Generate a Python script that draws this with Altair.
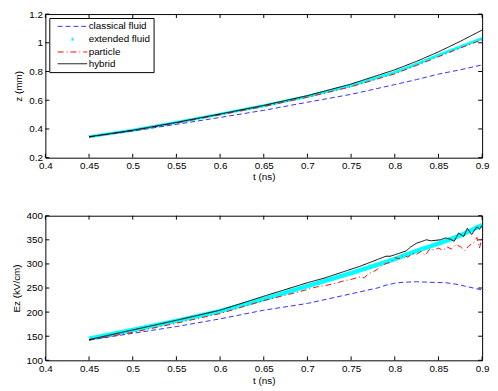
import altair as alt
import pandas as pd

# ---------------- data ----------------
SERIES = ["classical fluid", "extended fluid", "particle", "hybrid"]
COLORS = ["#3030ff", "#00ffff", "#ff0000", "#000000"]
DASHES = [[5, 3], [0, 14, 2, 200], [6, 3, 1, 3], [1, 0]]
WIDTHS = [1, 3, 1, 1]

# top panel: z (mm) vs t (ns)
t_top = [0.45, 0.5, 0.55, 0.6, 0.65, 0.7, 0.75, 0.8, 0.825, 0.85, 0.875, 0.9]
z_classical = [0.345, 0.386, 0.432, 0.480, 0.530, 0.586, 0.641, 0.709, 0.744, 0.782, 0.812, 0.846]
z_extended = [0.346, 0.391, 0.445, 0.503, 0.562, 0.627, 0.702, 0.794, 0.851, 0.914, 0.971, 1.030]
z_particle = [0.344, 0.389, 0.442, 0.499, 0.557, 0.621, 0.694, 0.784, 0.843, 0.903, 0.964, 1.021]
z_hybrid = [0.346, 0.391, 0.446, 0.504, 0.564, 0.632, 0.713, 0.812, 0.871, 0.937, 1.010, 1.089]

# bottom panel: Ez (kV/cm) vs t (ns)
t_cl = [0.45, 0.5, 0.55, 0.6, 0.65, 0.7, 0.75, 0.78, 0.79, 0.8, 0.81, 0.825, 0.84, 0.858, 0.87, 0.88, 0.89, 0.9]
E_classical = [142, 156, 170, 186, 204, 218, 238, 250, 256, 260, 262, 263, 262, 261, 258, 254, 250, 246]

t_ex = [0.45, 0.5, 0.55, 0.6, 0.65, 0.7, 0.75, 0.8, 0.825, 0.85, 0.875, 0.9]
E_extended = [145, 163, 182, 202, 227, 254, 281, 310, 327, 342, 359, 381]

t_pa = [0.45, 0.5, 0.55, 0.6, 0.65, 0.67, 0.69, 0.7, 0.71, 0.72, 0.73, 0.74, 0.75, 0.76, 0.765,
        0.77, 0.775, 0.78, 0.785, 0.79, 0.795, 0.8, 0.805, 0.81, 0.815, 0.82, 0.825, 0.83, 0.835,
        0.84, 0.845, 0.85, 0.855, 0.86, 0.865, 0.87, 0.875, 0.88, 0.885, 0.89, 0.894, 0.897, 0.9]
E_particle = [142, 158, 177, 197, 224, 233, 242, 247, 252, 255, 259, 264, 268, 273, 271,
              280, 283, 289, 296, 301, 303, 313, 311, 318, 314, 322, 320, 326, 318,
              331, 329, 333, 328, 335, 331, 340, 336, 327, 338, 343, 355, 333, 356]

t_hy = [0.45, 0.5, 0.55, 0.6, 0.65, 0.7, 0.72, 0.74, 0.76, 0.77, 0.78, 0.79, 0.795, 0.8, 0.805,
        0.813, 0.818, 0.825, 0.83, 0.836, 0.842, 0.847, 0.852, 0.858, 0.864, 0.868, 0.873,
        0.879, 0.883, 0.888, 0.894, 0.897, 0.9]
E_hybrid = [143, 163, 183, 204, 233, 261, 271, 283, 295, 302, 309, 316, 316, 319, 322,
            327, 335, 343, 346, 350, 348, 349, 350, 354, 351, 347, 364,
            357, 374, 361, 377, 372, 380]

x_ticks = [0.4, 0.45, 0.5, 0.55, 0.6, 0.65, 0.7, 0.75, 0.8, 0.85, 0.9]
y_ticks_top = [0.2, 0.4, 0.6, 0.8, 1.0, 1.2]
y_ticks_bot = [100, 150, 200, 250, 300, 350, 400]

# ---------------- build ----------------
W = 444
FONT = "Liberation Sans"


def long(pairs, yname):
    rows = []
    for s, (ts, ys) in zip(SERIES, pairs):
        for i, (t, y) in enumerate(zip(ts, ys)):
            rows.append({"t": t, yname: y, "series": s, "order": i})
    return pd.DataFrame(rows)


def panel(df, yname, ytitle, ydom, yticks, yfmt, H, band_w, title_pad, xtitle_pad):
    xs = alt.Scale(domain=[0.4, 0.9], nice=False, zero=False)
    ys = alt.Scale(domain=ydom, nice=False, zero=False)
    xax = alt.Axis(values=x_ticks, format="~g", ticks=False, grid=False, domain=False,
                   labelPadding=3, titlePadding=xtitle_pad, labelFlush=False, labelOverlap=False)
    yax = alt.Axis(values=yticks, format=yfmt, ticks=False, grid=False, domain=False,
                   labelPadding=3, titlePadding=title_pad, labelFlush=False, labelOverlap=False)
    X = alt.X("t:Q", scale=xs, axis=xax, title="t (ns)")
    Y = alt.Y(f"{yname}:Q", scale=ys, axis=yax, title=ytitle)

    band = alt.Chart(df[df["series"] == "extended fluid"]).mark_line(
        color="#00ffff", strokeWidth=band_w, clip=True
    ).encode(x=X, y=Y, order="order:Q")

    lines = alt.Chart(df).mark_line(clip=True).encode(
        x=X, y=Y, order="order:Q",
        color=alt.Color("series:N", scale=alt.Scale(domain=SERIES, range=COLORS),
                        legend=alt.Legend(title=None, orient="top-left", offset=4,
                                          symbolType="M-1,0H5", symbolSize=100,
                                          labelFontSize=10, labelFont=FONT, labelColor="black",
                                          strokeColor="black", fillColor="white",
                                          padding=3, rowPadding=1, cornerRadius=0,
                                          labelOffset=20, symbolOffset=4)),
        strokeDash=alt.StrokeDash("series:N", scale=alt.Scale(domain=SERIES, range=DASHES)),
        strokeWidth=alt.StrokeWidth("series:N",
                                    scale=alt.Scale(type="ordinal", domain=SERIES, range=WIDTHS)),
    )

    xt = pd.DataFrame({"t": x_ticks})
    yt = pd.DataFrame({yname: yticks})
    tick_b = alt.Chart(xt).mark_rule(color="black", strokeWidth=1).encode(
        x=X, y=alt.value(H), y2=alt.value(H - 4))
    tick_t = alt.Chart(xt).mark_rule(color="black", strokeWidth=1).encode(
        x=X, y=alt.value(0), y2=alt.value(4))
    tick_l = alt.Chart(yt).mark_rule(color="black", strokeWidth=1).encode(
        y=Y, x=alt.value(0), x2=alt.value(4))
    tick_r = alt.Chart(yt).mark_rule(color="black", strokeWidth=1).encode(
        y=Y, x=alt.value(W), x2=alt.value(W - 4))

    return alt.layer(band, lines, tick_b, tick_t, tick_l, tick_r).properties(width=W, height=H)


df_top = long([(t_top, z_classical), (t_top, z_extended), (t_top, z_particle), (t_top, z_hybrid)], "z")
df_bot = long([(t_cl, E_classical), (t_ex, E_extended), (t_pa, E_particle), (t_hy, E_hybrid)], "E")

top = panel(df_top, "z", "z (mm)", [0.2, 1.2], y_ticks_top, "~g", 146, 3, 5, 1)
bot = panel(df_bot, "E", "Ez (kV/cm)", [100, 400], y_ticks_bot, "d", 147, 4.5, 5, 3)

chart = alt.vconcat(top, bot, spacing=59, bounds="flush").properties(
    padding={"left": 2, "top": -3, "right": 0, "bottom": 0}
).configure(font=FONT).configure_view(stroke="black", strokeWidth=1).configure_axis(
    labelFontSize=10, labelColor="black", titleFontSize=10, titleFontWeight="normal",
    titleColor="black", labelFont=FONT, titleFont=FONT
)

chart.save("out.html", embed_options={"renderer": "svg", "actions": False})
